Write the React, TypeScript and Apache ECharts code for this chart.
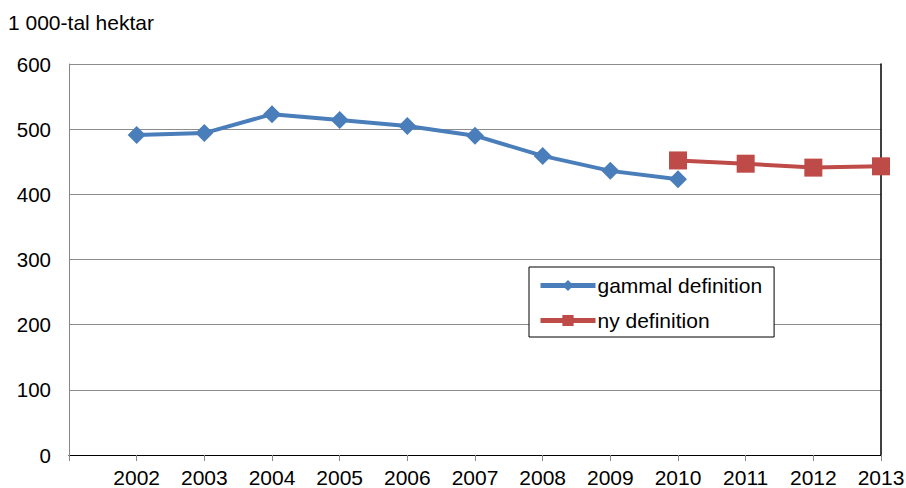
import React, { useEffect, useRef } from "react";
import * as echarts from "echarts";

const years = [2001, 2002, 2003, 2004, 2005, 2006, 2007, 2008, 2009, 2010, 2011, 2012, 2013];
const oldYears = [2002, 2003, 2004, 2005, 2006, 2007, 2008, 2009, 2010];
const oldValues = [491, 494, 523, 514, 505, 490, 459, 436, 423];
const newYears = [2010, 2011, 2012, 2013];
const newValues = [452, 447, 441, 443];
const yTicks = [0, 100, 200, 300, 400, 500, 600];
const unitLabel = "1 000-tal hektar";
const seriesNames = ["gammal definition", "ny definition"];

const FONT = "'Liberation Sans', Arial, sans-serif";

export default function App() {
  const ref = useRef<HTMLDivElement>(null);
  useEffect(() => {
    if (!ref.current) return;
    const chart = echarts.init(ref.current, null, { renderer: "svg" });
    chart.setOption({
      animation: false,
      textStyle: { fontFamily: FONT },
      grid: { left: 69, right: 25, top: 64, bottom: 33, containLabel: false, outerBoundsMode: "none" },
      title: {
        text: unitLabel,
        left: 8,
        top: 12,
        padding: 0,
        textStyle: { fontFamily: FONT, fontSize: 21, fontWeight: "normal", color: "#000" },
      },
      legend: {
        orient: "vertical",
        left: 529,
        top: 267,
        padding: [8, 12, 6, 9],
        itemGap: 14,
        itemWidth: 55,
        itemHeight: 14,
        borderColor: "#000",
        borderWidth: 1,
        backgroundColor: "#fff",
        lineStyle: { width: 5 },
        textStyle: { fontFamily: FONT, fontSize: 21, color: "#000", padding: [0, 0, 0, -3] },
        data: seriesNames,
      },
      xAxis: [
        {
          type: "value",
          min: years[0],
          max: years[years.length - 1],
          interval: 1,
          axisLine: { show: true, lineStyle: { color: "#868686", width: 1 } },
          axisTick: { show: true, length: 6, lineStyle: { color: "#868686" } },
          splitLine: { show: false },
          axisLabel: {
            fontFamily: FONT,
            fontSize: 21,
            lineHeight: 17,
            color: "#000",
            margin: 14,
            formatter: (v: number) => (v === years[0] ? "" : String(v)),
          },
        },
        {
          type: "value",
          position: "top",
          min: years[0],
          max: years[years.length - 1],
          axisLine: { show: true, lineStyle: { color: "#000", width: 1 } },
          axisTick: { show: false },
          axisLabel: { show: false },
          splitLine: { show: false },
        },
      ],
      yAxis: [
        {
          type: "value",
          min: yTicks[0],
          max: yTicks[yTicks.length - 1],
          interval: 100,
          axisLine: { show: true, lineStyle: { color: "#868686", width: 1 } },
          axisTick: { show: false },
          splitLine: { show: true, lineStyle: { color: "#8c8c8c", width: 1 } },
          axisLabel: { fontFamily: FONT, fontSize: 20.5, color: "#000", margin: 18 },
        },
        {
          type: "value",
          position: "right",
          min: yTicks[0],
          max: yTicks[yTicks.length - 1],
          axisLine: { show: true, lineStyle: { color: "#000", width: 1.5 } },
          axisTick: { show: false },
          axisLabel: { show: false },
          splitLine: { show: false },
        },
      ],
      series: [
        {
          name: seriesNames[0],
          type: "line",
          data: oldYears.map((y, i) => [y, oldValues[i]]),
          symbol: "diamond",
          symbolSize: [18, 18],
          lineStyle: { color: "#4A7EBB", width: 4 },
          itemStyle: { color: "#4A7EBB" },
          z: 3,
        },
        {
          name: seriesNames[1],
          type: "line",
          data: newYears.map((y, i) => [y, newValues[i]]),
          symbol: "rect",
          symbolSize: 18,
          lineStyle: { color: "#BE4B48", width: 4 },
          itemStyle: { color: "#BE4B48" },
          z: 4,
        },
      ],
    });
    return () => chart.dispose();
  }, []);
  return <div ref={ref} style={{ width: 906, height: 488, position: "absolute", left: 0, top: 0 }} />;
}
